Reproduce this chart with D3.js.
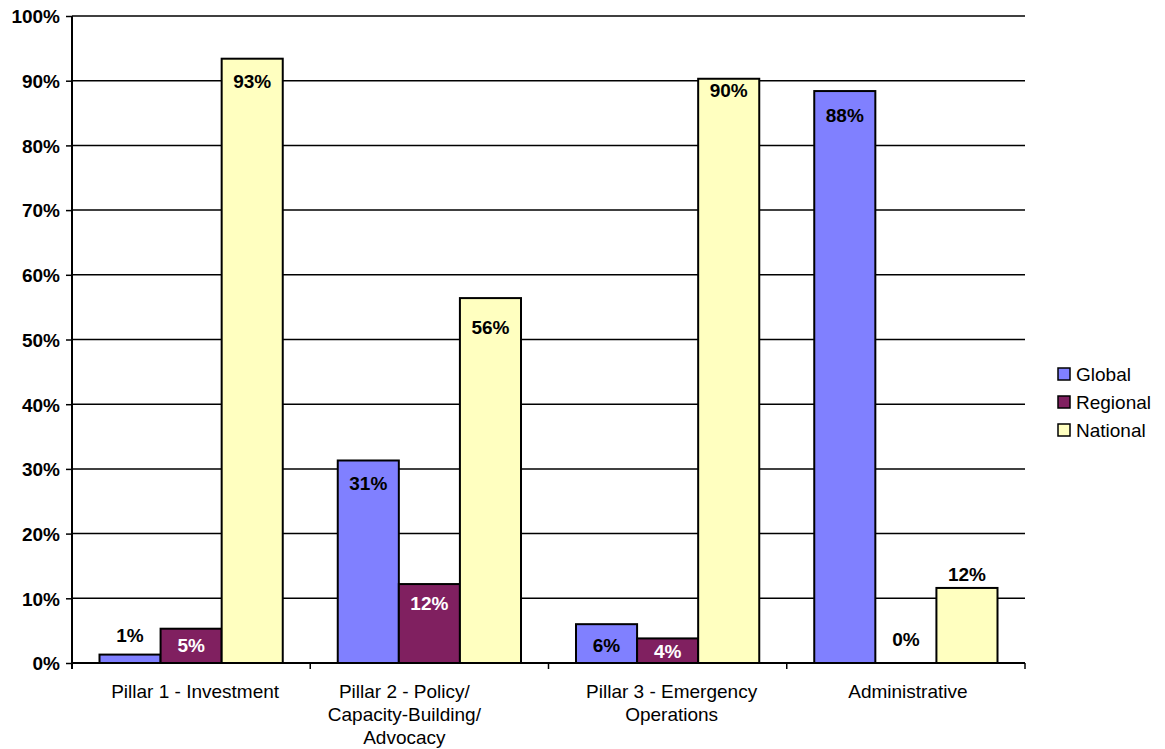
<!DOCTYPE html>
<html>
<head>
<meta charset="utf-8">
<script src="https://cdn.jsdelivr.net/npm/d3@7"></script>
<style>
  html, body { margin: 0; padding: 0; background: #fff; }
  svg { display: block; font-family: "Liberation Sans", Arial, sans-serif; }
</style>
</head>
<body>
<svg id="chart" width="1165" height="749"></svg>
<script>
// Funding share by pillar, split by level
const categories = [
  "Pillar 1 - Investment",
  "Pillar 2 - Policy/ Capacity-Building/ Advocacy",
  "Pillar 3 - Emergency Operations",
  "Administrative"
];
const categoryLines = [
  ["Pillar 1 - Investment"],
  ["Pillar 2 - Policy/", "Capacity-Building/", "Advocacy"],
  ["Pillar 3 - Emergency", "Operations"],
  ["Administrative"]
];
const seriesNames = ["Global", "Regional", "National"];
const globalValues   = [0.013, 0.313, 0.060, 0.884];
const regionalValues = [0.053, 0.122, 0.038, 0.000];
const nationalValues = [0.934, 0.564, 0.903, 0.116];
const yTicks = [0, 0.1, 0.2, 0.3, 0.4, 0.5, 0.6, 0.7, 0.8, 0.9, 1.0];

// Styling
const seriesColors = ["#8080FF", "#802060", "#FFFFC0"];
const labelColors  = ["#000", "#fff", "#000"];
// vertical offset of each value label from the top of its bar (negative = above)
const labelOffsets = [
  [-19, 23, 21, 24],
  [16, 19, 13, -24],
  [22, 29, 11, -14]
];
const categoryLabelShift = [4, -25, 4, 2];
const fontSize = 19;

const margin = { left: 72, right: 140, top: 16, bottom: 86 };
const W = 1165, H = 749;
const svg = d3.select("#chart");

const x0 = d3.scaleBand()
  .domain(categories)
  .range([margin.left, W - margin.right])
  .paddingInner(0).paddingOuter(0);

const groupPad = 27.5;
const x1 = d3.scaleBand()
  .domain(seriesNames)
  .range([groupPad, x0.bandwidth() - groupPad])
  .padding(0);

const y = d3.scaleLinear().domain([0, 1]).range([H - margin.bottom, margin.top]);

const seriesValues = [globalValues, regionalValues, nationalValues];
const fmt = d3.format(".0%");

// Gridlines
svg.append("g")
  .selectAll("line")
  .data(yTicks.filter(t => t > 0))
  .join("line")
  .attr("x1", margin.left)
  .attr("x2", W - margin.right)
  .attr("y1", d => y(d))
  .attr("y2", d => y(d))
  .attr("stroke", "#000")
  .attr("stroke-width", 1.5);

// Bars
const bars = [];
seriesNames.forEach((s, si) => {
  categories.forEach((c, ci) => {
    bars.push({ s, si, c, ci, v: seriesValues[si][ci] });
  });
});

svg.append("g")
  .selectAll("rect")
  .data(bars.filter(d => d.v > 0))
  .join("rect")
  .attr("x", d => x0(d.c) + x1(d.s))
  .attr("y", d => y(d.v))
  .attr("width", x1.bandwidth())
  .attr("height", d => y(0) - y(d.v))
  .attr("fill", d => seriesColors[d.si])
  .attr("stroke", "#000")
  .attr("stroke-width", 2);

// Y axis
const yAxis = d3.axisLeft(y)
  .tickValues(yTicks)
  .tickFormat(fmt)
  .tickSize(6)
  .tickPadding(6);

const yg = svg.append("g")
  .attr("transform", `translate(${margin.left},0)`)
  .call(yAxis);
yg.select(".domain").attr("stroke", "#000").attr("stroke-width", 2)
  .attr("d", `M0,${y(1)}V${y(0) + 6}`);
yg.selectAll(".tick line").attr("stroke", "#000").attr("stroke-width", 1.5);
yg.selectAll(".tick text")
  .attr("fill", "#000")
  .attr("font-size", fontSize)
  .attr("font-weight", "bold")
  .attr("font-family", "Liberation Sans, Arial, sans-serif")
  .attr("dy", "0.36em");

// X axis line and category boundary ticks
const xg = svg.append("g");
xg.append("line")
  .attr("x1", margin.left).attr("x2", W - margin.right)
  .attr("y1", y(0)).attr("y2", y(0))
  .attr("stroke", "#000").attr("stroke-width", 2);
const boundaries = categories.map(c => x0(c)).concat([x0.range()[1]]);
xg.selectAll("line.bt")
  .data(boundaries.slice(1))
  .join("line")
  .attr("class", "bt")
  .attr("x1", d => d).attr("x2", d => d)
  .attr("y1", y(0)).attr("y2", y(0) + 6)
  .attr("stroke", "#000").attr("stroke-width", 1.5);

// Category labels
const catG = svg.append("g")
  .attr("font-size", fontSize)
  .attr("text-anchor", "middle")
  .attr("fill", "#000");
categories.forEach((c, ci) => {
  const cx = x0(c) + x0.bandwidth() / 2 + categoryLabelShift[ci];
  const t = catG.append("text")
    .attr("x", cx)
    .attr("y", y(0) + 35);
  categoryLines[ci].forEach((line, li) => {
    t.append("tspan")
      .attr("x", cx)
      .attr("dy", li === 0 ? 0 : 23)
      .text(line);
  });
});

// Value labels
svg.append("g")
  .attr("font-size", fontSize)
  .attr("font-weight", "bold")
  .attr("text-anchor", "middle")
  .selectAll("text")
  .data(bars)
  .join("text")
  .attr("x", d => x0(d.c) + x1(d.s) + x1.bandwidth() / 2)
  .attr("y", d => y(d.v) + labelOffsets[d.si][d.ci])
  .attr("dy", "0.36em")
  .attr("fill", d => (d.v > 0 && labelOffsets[d.si][d.ci] > 0) ? labelColors[d.si] : "#000")
  .text(d => fmt(d.v));

// Legend
const legend = svg.append("g").attr("transform", "translate(1058,368)");
seriesNames.forEach((s, i) => {
  const g = legend.append("g").attr("transform", `translate(0,${i * 28})`);
  g.append("rect")
    .attr("width", 12).attr("height", 12)
    .attr("fill", seriesColors[i])
    .attr("stroke", "#000").attr("stroke-width", 1.5);
  g.append("text")
    .attr("x", 18).attr("y", 6)
    .attr("dy", "0.36em")
    .attr("font-size", fontSize)
    .attr("fill", "#000")
    .text(s);
});
</script>
</body>
</html>
